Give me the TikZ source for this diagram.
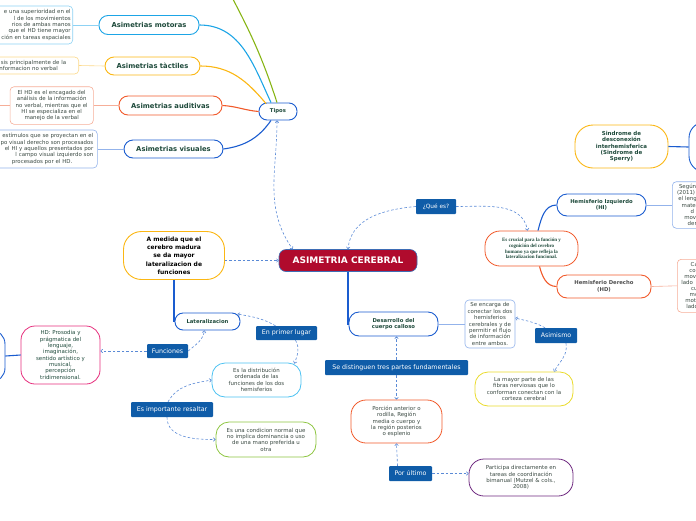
\documentclass[tikz,border=0pt]{standalone}
\usepackage{fontspec}
\setmainfont{DejaVu Sans}
\newfontfamily\crucialfont{Liberation Serif}
\usetikzlibrary{arrows.meta}

\definecolor{cerebralred}{HTML}{B00B2D}
\definecolor{cerebraledge}{HTML}{3E6DB5}
\definecolor{tagblue}{HTML}{0F5CA8}
\definecolor{relblue}{HTML}{5A8AD6}
\definecolor{topicgreen}{HTML}{1E4A3B}
\definecolor{notetext}{HTML}{3B4A43}
\definecolor{cyanline}{HTML}{1DA5E6}
\definecolor{yellowline}{HTML}{FBB714}
\definecolor{redline}{HTML}{F15A2B}
\definecolor{blueline}{HTML}{1A5CCF}
\definecolor{greenline}{HTML}{88B516}
\definecolor{cyanpale}{HTML}{8DD2F4}
\definecolor{yellowpale}{HTML}{FCD98A}
\definecolor{redpale}{HTML}{F6AE98}
\definecolor{bluepale}{HTML}{93B3EB}
\definecolor{pinkline}{HTML}{E62F7D}
\definecolor{skyline}{HTML}{4CC2F2}
\definecolor{limeline}{HTML}{8DC540}
\definecolor{lemonline}{HTML}{EADB2B}
\definecolor{purpleline}{HTML}{6F2A80}
\definecolor{grayt}{HTML}{4F4F4F}

\newcommand{\mmsize}[2]{\fontsize{#1}{#2}\selectfont}

\tikzset{
  topic/.style={draw=#1, line width=0.9pt, fill=white, rounded corners=8pt,
    text=topicgreen, font=\bfseries\mmsize{5.3}{6.6}, align=center, inner sep=2pt},
  mainbranch/.style={topic=#1, font=\bfseries\mmsize{6.8}{8}, rounded corners=9pt},
  note/.style={draw=#1, line width=0.6pt, fill=white, rounded corners=4pt,
    text=notetext, font=\mmsize{5.45}{6.35}, align=center, inner sep=2pt},
  bubble/.style={note=#1, line width=0.8pt, rounded corners=13pt},
  tag/.style={fill=tagblue, text=white, rounded corners=1pt, font=\mmsize{6.3}{7}, inner sep=1pt},
  rel/.style={relblue, line width=0.6pt, dash pattern=on 2.5pt off 2pt, ->},
  branch/.style={draw=#1, line width=1.1pt},
  twig/.style={draw=#1, line width=0.6pt},
}

\begin{document}
\begin{tikzpicture}[x=1pt, y=1pt, >={To[length=2.5pt,width=4pt]}]
  \useasboundingbox (0,0) rectangle (696,-520);
  \clip (0,0) rectangle (696,-520);

  % centre
  \node[topic=cerebraledge, fill=cerebralred, text=white, font=\bfseries\mmsize{9}{10},
    line width=0.6pt, rounded corners=7pt, minimum width=138pt, minimum height=22pt]
    (cerebral) at (348,-260.5) {ASIMETRIA CEREBRAL};

  % tipos
  \node[topic=blueline, minimum width=38pt, minimum height=17pt] (tipos) at (278,-111.5) {Tipos};
  \node[mainbranch=cyanline, minimum width=100pt, minimum height=19pt] (motoras) at (149,-25) {Asimetrias motoras};
  \node[mainbranch=yellowline, minimum width=95pt, minimum height=18pt] (tactiles) at (152.5,-66) {Asimetrias tàctiles};
  \node[mainbranch=redline, minimum width=103pt, minimum height=19pt] (auditivas) at (170.5,-105.5) {Asimetrias auditivas};
  \node[mainbranch=blueline, minimum width=99pt, minimum height=18pt] (visuales) at (173.5,-149) {Asimetrias visuales};

  \node[note=cyanpale, text width=98.7pt, align=right, inner xsep=2pt, minimum height=38pt]
    (motorasleaf) at (21.35,-25) {e una superioridad en el\hspace*{5pt}\\l de los movimientos\hspace*{14pt}\\rios de ambas manos\hspace*{11pt}\\que el HD tiene mayor\hspace*{7pt}\\ción en tareas espaciales};
  \node[note=yellowpale, text width=93.7pt, align=right, inner xsep=12.5pt, minimum height=17pt]
    (tactilesleaf) at (19.35,-65.5) {sis principalmente de la\\nformacion no verbal\hspace*{8.4pt}};
  \node[note=redpale, minimum width=83.3pt, minimum height=37.6pt]
    (auditivasleaf) at (51.7,-105.5) {El HD es el encagado del\\análisis de la información\\no verbal, mientras que el\\HI se especializa en el\\manejo de la verbal};
  \node[note=bluepale, text width=119.3pt, align=right, inner xsep=4pt, minimum height=38pt]
    (visualesleaf) at (33.65,-149) {estímulos que se proyectan en el\hspace*{2.5pt}\\po visual derecho son procesados\\el HI y aquellos presentados por\hspace*{3pt}\\l campo visual izquierdo son\hspace*{12pt}\\procesados por el HD.\hspace*{21pt}};
  \coordinate (auditivasoff) at (-20,-105.5);
  \coordinate (greenoff) at (226,14);

  \draw[branch=greenline] ([xshift=-1pt]tipos.north) to[out=108,in=-62] (greenoff);
  \draw[branch=cyanline] (motoras.east) to[out=0,in=115] ([xshift=-7pt]tipos.north);
  \draw[branch=yellowline] (tactiles.east) to[out=0,in=130] ([xshift=-12pt,yshift=-1pt]tipos.north);
  \draw[branch=redline] (auditivas.east) to[out=-3,in=175] (tipos.west);
  \draw[branch=blueline] (visuales.east) to[out=8,in=-125] ([xshift=-7pt]tipos.south);
  \draw[twig=cyanpale] (motorasleaf.east) -- (motoras.west);
  \draw[twig=yellowpale] (tactilesleaf.east) -- (tactiles.west);
  \draw[twig=redpale] (auditivasleaf.east) -- (auditivas.west);
  \draw[twig=redpale] (auditivasleaf.west) -- (auditivasoff);
  \draw[twig=bluepale] (visualesleaf.east) -- (visuales.west);
  \draw[rel, <->] ([xshift=-1pt]tipos.south) to[out=-90,in=125] ([xshift=14pt]cerebral.north west);

  % lateralizacion
  \node[topic=yellowline, text=black, font=\bfseries\mmsize{6}{8.3}, rounded corners=18pt,
    minimum width=101pt, minimum height=48pt] (amedida) at (174,-255.5)
    {A medida que el\\cerebro madura\\se da mayor\\lateralizacion de\\funciones};
  \node[topic=blueline, minimum width=65pt, minimum height=17pt] (lateral) at (207.5,-321.5) {Lateralizacion};
  \node[tag, minimum width=41pt, minimum height=14pt] (funciones) at (167.5,-351) {Funciones};
  \node[bubble=pinkline, text=topicgreen, minimum width=79pt, minimum height=58pt, rounded corners=14pt]
    (hdleaf) at (60.5,-355) {HD: Prosodia y\\prágmatica del\\lenguaje,\\imaginación,\\sentido artístico y\\musical,\\percepción\\tridimensional.};
  \node[topic=blueline, minimum width=80pt, minimum height=52pt, rounded corners=14pt] (leftblue) at (-35,-356) {};
  \node[tag, minimum width=61pt, minimum height=14pt] (primer) at (286.5,-333) {En primer lugar};
  \node[bubble=skyline, minimum width=89pt, minimum height=34pt] (distrib) at (256.5,-380)
    {Es la distribución\\ordenada de las\\funciones de los dos\\hemisferios};
  \node[tag, minimum width=82pt, minimum height=15pt] (importante) at (172,-409.5) {Es importante resaltar};
  \node[bubble=limeline, minimum width=100pt, minimum height=35pt] (condicion) at (266,-439.5)
    {Es una condicion normal que\\no implica dominancia o uso\\de una mano preferida u\\otra};

  \draw[rel] (amedida.east |- cerebral.west) -- (cerebral.west);
  \draw[branch=blueline] (amedida.south) |- (lateral.west);
  \draw[branch=blueline] (leftblue.east) -- (hdleaf.west);
  \draw[rel] (funciones.east) to[out=40,in=-100] ([xshift=-3pt]lateral.south);
  \draw[rel] (funciones.west) -- (funciones.west -| hdleaf.east);
  \draw[rel] ([xshift=-11pt]primer.north) to[out=150,in=-10] ([xshift=-3pt,yshift=-1.5pt]lateral.north east);
  \draw[rel] ([xshift=9pt]primer.south) to[out=-60,in=70] ([xshift=-7pt,yshift=-1pt]distrib.north east);
  \draw[rel] ([xshift=-4pt]importante.north) to[out=60,in=190] (distrib.west);
  \draw[rel] ([xshift=-5pt]importante.south) to[out=-90,in=180] (condicion.west);

  % cuerpo calloso
  \node[topic=blueline, minimum width=89pt, minimum height=24pt, rounded corners=10pt] (desarrollo) at (393.5,-324)
    {Desarrollo del\\cuerpo calloso};
  \node[note=bluepale, minimum width=50pt, minimum height=48pt] (encarga) at (490,-324)
    {Se encarga de\\conectar los dos\\hemisferios\\cerebrales y de\\permitir el flujo\\de información\\entre ambos.};
  \node[tag, minimum width=42pt, minimum height=15pt] (asimismo) at (556,-335.5) {Asimismo};
  \node[bubble=lemonline, minimum width=98pt, minimum height=34pt] (mayor) at (524,-389)
    {La mayor parte de las\\fibras nerviosas que lo\\conforman conectan con la\\corteza cerebral};
  \node[tag, minimum width=143pt, minimum height=15pt] (distinguen) at (396.5,-367.5) {Se distinguen tres partes fundamentales};
  \node[bubble=redline, minimum width=91pt, minimum height=43pt, rounded corners=15pt] (porcion) at (396.5,-421.5)
    {Porción anterior o\\rodilla, Región\\media o cuerpo y\\la región posterios\\o esplenio};
  \node[tag, minimum width=43pt, minimum height=15pt] (ultimo) at (410.5,-473.5) {Por último};
  \node[bubble=purpleline, minimum width=104pt, minimum height=37pt, rounded corners=15pt] (participa) at (521,-477.5)
    {Participa directamente en\\tareas de coordinación\\bimanual (Mutzel \& cols.,\\2008)};

  \draw[branch=blueline] (cerebral.south) |- (desarrollo.west);
  \draw[twig=bluepale] (desarrollo.east) -- (encarga.west);
  \draw[rel] ([xshift=-11pt]asimismo.north) to[out=150,in=-15] ([yshift=6pt]encarga.east);
  \draw[rel] ([xshift=10pt]asimismo.south) to[out=-80,in=60] ([xshift=30pt]mayor.north);
  \draw[rel] (distinguen.north) -- (distinguen.north |- desarrollo.south);
  \draw[rel] (distinguen.south) -- (porcion.north);
  \draw[rel] ([xshift=-13pt]ultimo.north) -- (porcion.south);
  \draw[rel] (ultimo.east) -- (ultimo.east -| participa.west);

  % que es
  \node[tag, minimum width=40pt, minimum height=15pt, font=\mmsize{5.8}{7}] (quees) at (436,-206.5) {¿Qué es?};
  \node[bubble=redline, text=topicgreen, font=\crucialfont\bfseries\mmsize{5}{5.8}, minimum width=93pt, minimum height=35pt, rounded corners=15pt]
    (crucial) at (531.5,-248.5) {Es crucial para la función y\\cognición del cerebro\\humano ya que refleja la\\lateralizacion funcional.};
  \node[topic=blueline, minimum width=89pt, minimum height=22pt, rounded corners=10pt] (hizq) at (601.5,-205)
    {Hemisferio Izquierdo\\(HI)};
  \node[topic=redline, text=grayt, minimum width=94pt, minimum height=23pt, rounded corners=10pt] (hder) at (604,-286.5)
    {Hemisferio Derecho\\(HD)};
  \node[note=bluepale, text width=92pt, align=left, inner xsep=4pt, minimum height=46.6pt, font=\mmsize{5.45}{6.2}]
    (hizqleaf) at (722.3,-205) {\hspace*{2.7pt}Según\\\hspace*{0.7pt}(2011)\\\hspace*{2pt}el leng\\\hspace*{5.4pt}matem\\\hspace*{14.4pt}d\\\hspace*{8pt}movi\\\hspace*{11.4pt}den};
  \node[note=redpale, text width=92pt, align=left, inner xsep=4pt, minimum height=53pt, font=\mmsize{5.45}{6}]
    (hderleaf) at (727.3,-285.8) {\hspace*{9.4pt}Ca\\\hspace*{8pt}co\\\hspace*{3pt}movi\\lado\\\hspace*{9.7pt}cu\\\hspace*{8.4pt}mo\\\hspace*{4pt}mot\\\hspace*{5pt}lado};
  \node[topic=yellowline, font=\bfseries\mmsize{5.5}{6.4}, minimum width=93pt, minimum height=43pt, rounded corners=18pt]
    (sindrome) at (621.5,-146.5) {Sindrome de\\desconexión\\interhemisferica\\(Sindrome de\\Sperry)};
  \node[topic=blueline, minimum width=92pt, minimum height=50pt, rounded corners=16pt] (rightblue) at (735,-147) {};

  \draw[rel] (quees.west) to[out=185,in=85] (cerebral.north);
  \draw[rel] (quees.east) to[out=0,in=100] ([xshift=-4pt]crucial.north);
  \draw[branch=blueline] ([xshift=6.5pt]crucial.north) to[out=75,in=180] (hizq.west);
  \draw[branch=redline] ([xshift=8pt]crucial.south) to[out=-75,in=180] (hder.west);
  \draw[twig=bluepale] (hizq.east) -- (hizqleaf.west);
  \draw[twig=redpale] (hder.east) -- (hderleaf.west);
  \draw[branch=blueline] (sindrome.east) -- (rightblue.west);
\end{tikzpicture}
\end{document}
